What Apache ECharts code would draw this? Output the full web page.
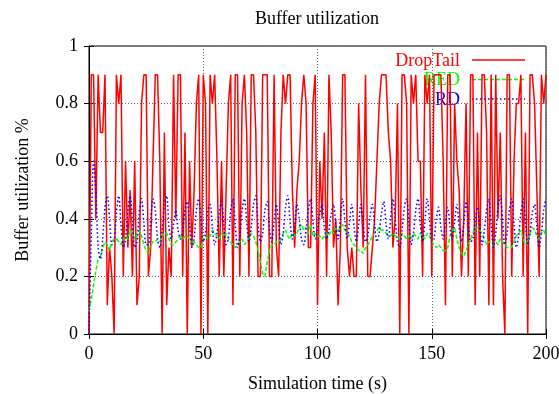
<!DOCTYPE html>
<html>
<head>
<meta charset="utf-8">
<script src="https://cdn.jsdelivr.net/npm/echarts@6/dist/echarts.min.js"></script>
<style>html,body{margin:0;padding:0;background:#fff;}#c{width:559px;height:394px;}</style>
</head>
<body>
<div id="c"></div>
<script>
// Sampling step of all series (seconds)
const step = 1;
const xTicks = [0, 50, 100, 150, 200];
const yTicks = [0, 0.2, 0.4, 0.6, 0.8, 1];
const seriesNames = ['DropTail', 'RED', 'RD'];

const dropTail = [
0,0.9,0.9,0.4,0.9,0.7,0.7,0.9,0.1,0.3,
0.2,0,0.9,0.8,0.9,0.2,0.6,0.3,0.5,0.2,
0.6,0.1,0.2,0.8,0.9,0.9,0.2,0.3,0.6,0.9,
0.9,0.6,0,0.7,0.1,0.3,0.2,0.9,0.4,0.9,
0.9,0.2,0.7,0,0.6,0.3,0.5,0.8,0.9,0,
0.9,0.8,0,0.9,0.8,0.9,0.6,0.2,0.6,0.2,
0.5,0.8,0.9,0.1,0.9,0.9,0.2,0.8,0.9,0.7,
0.2,0.9,0.9,0.7,0.2,0.2,0.9,0.9,0.9,0.2,
0.2,0.9,0.3,0.2,0.7,0.9,0.8,0.9,0.9,0.5,
0.3,0.5,0.6,0.8,0.9,0.8,0.3,0.3,0.8,0.9,
0.1,0.6,0.4,0.7,0.2,0.9,0.7,0.3,0.4,0.1,
0.3,0.9,0.9,0.3,0.2,0.3,0.2,0.2,0.8,0.5,
0.3,0.9,0.2,0.2,0.3,0.4,0.6,0.8,0.9,0.9,
0.9,0.7,0.6,0.3,0.4,0.8,0,0.9,0.9,0.8,
0,0.9,0.8,0.9,0.6,0.6,0.2,0.9,0.8,0.9,
0.2,0.9,0.9,0.9,0.9,0.6,0.1,0.9,0.9,0.2,
0.8,0.6,0.5,0.2,0.4,0.8,0.2,0.9,0.9,0.1,
0.7,0.2,0.9,0.9,0.7,0.1,0.9,0.1,0.9,0.4,
0.7,0.2,0,0.9,0.9,0.2,0.6,0.8,0.8,0.9,
0.2,0.7,0,0.9,0.9,0.8,0.5,0.2,0.9,0.8,0.9
];

const redQ = [
0.08,0.12,0.17,0.22,0.26,0.27,0.3,0.32,0.31,0.29,
0.32,0.33,0.33,0.32,0.31,0.33,0.34,0.33,0.36,0.35,
0.33,0.34,0.36,0.34,0.31,0.29,0.28,0.31,0.32,0.32,
0.33,0.32,0.34,0.35,0.35,0.33,0.31,0.31,0.32,0.33,
0.34,0.33,0.34,0.34,0.33,0.31,0.32,0.31,0.3,0.3,
0.33,0.34,0.33,0.34,0.36,0.35,0.34,0.33,0.35,0.34,
0.35,0.33,0.32,0.31,0.3,0.31,0.32,0.33,0.31,0.32,
0.33,0.35,0.34,0.32,0.29,0.25,0.21,0.2,0.25,0.29,
0.31,0.31,0.32,0.32,0.33,0.35,0.36,0.34,0.33,0.35,
0.34,0.35,0.37,0.38,0.36,0.37,0.35,0.38,0.34,0.35,
0.34,0.34,0.33,0.34,0.35,0.34,0.36,0.35,0.37,0.36,
0.37,0.38,0.36,0.35,0.34,0.32,0.31,0.3,0.29,0.29,
0.28,0.3,0.31,0.32,0.34,0.35,0.36,0.37,0.36,0.36,
0.35,0.34,0.34,0.35,0.34,0.34,0.33,0.35,0.34,0.33,
0.34,0.33,0.35,0.34,0.33,0.35,0.34,0.33,0.35,0.34,
0.32,0.31,0.3,0.31,0.3,0.29,0.29,0.3,0.34,0.36,
0.37,0.33,0.3,0.28,0.27,0.29,0.31,0.33,0.35,0.37,
0.37,0.36,0.35,0.33,0.31,0.32,0.32,0.31,0.32,0.31,
0.33,0.32,0.31,0.3,0.3,0.3,0.32,0.34,0.35,0.36,
0.33,0.31,0.32,0.35,0.37,0.36,0.34,0.33,0.35,0.36,0.34
];

const rdQ = [
0,0.35,0.6,0.5,0.3,0.26,0.33,0.44,0.48,0.4,
0.31,0.32,0.42,0.48,0.38,0.3,0.33,0.43,0.48,0.39,
0.3,0.32,0.42,0.47,0.39,0.31,0.31,0.4,0.47,0.43,
0.33,0.3,0.36,0.45,0.48,0.37,0.33,0.38,0.43,0.36,
0.33,0.36,0.43,0.46,0.38,0.3,0.33,0.43,0.47,0.4,
0.32,0.35,0.43,0.45,0.37,0.31,0.35,0.42,0.46,0.38,
0.31,0.33,0.43,0.47,0.38,0.3,0.34,0.43,0.47,0.39,
0.32,0.37,0.45,0.48,0.38,0.32,0.35,0.43,0.46,0.36,
0.32,0.39,0.45,0.38,0.31,0.35,0.44,0.48,0.39,0.33,
0.38,0.45,0.4,0.33,0.31,0.36,0.43,0.47,0.39,0.33,
0.36,0.42,0.45,0.37,0.33,0.36,0.42,0.45,0.38,0.33,
0.4,0.47,0.39,0.33,0.39,0.45,0.37,0.32,0.38,0.45,
0.38,0.32,0.34,0.41,0.45,0.38,0.32,0.35,0.42,0.46,
0.38,0.33,0.4,0.47,0.4,0.32,0.3,0.36,0.44,0.47,
0.39,0.31,0.35,0.43,0.47,0.38,0.32,0.39,0.47,0.4,
0.32,0.33,0.4,0.44,0.37,0.33,0.39,0.44,0.37,0.33,
0.39,0.45,0.37,0.32,0.38,0.46,0.39,0.32,0.33,0.39,
0.44,0.37,0.31,0.36,0.43,0.47,0.38,0.3,0.35,0.44,
0.48,0.39,0.31,0.35,0.43,0.47,0.38,0.3,0.34,0.42,
0.47,0.39,0.31,0.35,0.42,0.45,0.37,0.3,0.35,0.43,0.47
];

const toPairs = arr => arr.map((v, i) => [i * step, v]);
const FONT = "'Liberation Serif', 'Times New Roman', serif";
const colors = ['#ff0000', '#00ff00', '#0000ff'];
const dashes = [null, [4, 2], [1.5, 2.5]];

const chart = echarts.init(document.getElementById('c'), null, {renderer: 'canvas'});

const gridLine = {show: true, lineStyle: {color: '#666', type: [1, 2], width: 1}};
const tick = {show: true, inside: true, length: 5, lineStyle: {color: '#000'}};

// gnuplot-style key: right-aligned text, sample line to its right
const legendItems = [];
seriesNames.forEach((name, i) => {
  const yc = 61 + i * 19.5;
  legendItems.push({
    type: 'text', x: 460, y: yc, silent: true,
    style: {text: name, fill: colors[i], font: '18px ' + FONT, textAlign: 'right', textVerticalAlign: 'middle'}
  });
  legendItems.push({
    type: 'line', silent: true,
    shape: {x1: 472, y1: yc - 1, x2: 525, y2: yc - 1},
    style: {stroke: colors[i], lineWidth: 1.5, lineDash: dashes[i] || null}
  });
});

chart.setOption({
  animation: false,
  backgroundColor: '#fff',
  title: {
    text: 'Buffer utilization', left: 317, top: 10, textAlign: 'center', padding: 0,
    textStyle: {fontFamily: FONT, fontSize: 18, fontWeight: 'normal', color: '#000'}
  },
  graphic: legendItems,
  grid: {left: 89, right: 13, top: 46, bottom: 60, outerBoundsMode: 'none', containLabel: false,
    show: true, borderColor: '#000', borderWidth: 1, backgroundColor: 'transparent'},
  xAxis: [{
    type: 'value', min: xTicks[0], max: xTicks[xTicks.length - 1], interval: 50,
    name: 'Simulation time (s)', nameLocation: 'middle', nameGap: 41,
    nameTextStyle: {fontFamily: FONT, fontSize: 18, color: '#000'},
    axisLine: {show: true, lineStyle: {color: '#000'}},
    axisTick: tick,
    axisLabel: {fontFamily: FONT, fontSize: 18, color: '#000', margin: 11},
    splitLine: gridLine
  }, {
    type: 'value', position: 'top', min: 0, max: 200, interval: 50,
    axisLine: {show: false}, axisTick: tick, axisLabel: {show: false}, splitLine: {show: false}
  }],
  yAxis: [{
    type: 'value', min: yTicks[0], max: yTicks[yTicks.length - 1], interval: 0.2,
    name: 'Buffer utilization %', nameLocation: 'middle', nameGap: 57,
    nameTextStyle: {fontFamily: FONT, fontSize: 18, color: '#000'},
    axisLine: {show: true, lineStyle: {color: '#000'}},
    axisTick: tick,
    axisLabel: {fontFamily: FONT, fontSize: 18, color: '#000', margin: 11},
    splitLine: gridLine
  }, {
    type: 'value', position: 'right', min: 0, max: 1, interval: 0.2,
    axisLine: {show: false}, axisTick: tick, axisLabel: {show: false}, splitLine: {show: false}
  }],
  series: [{
    name: seriesNames[0], type: 'line', data: toPairs(dropTail),
    showSymbol: false, symbol: 'none',
    lineStyle: {color: colors[0], width: 1.5}, itemStyle: {color: colors[0]}
  }, {
    name: seriesNames[1], type: 'line', data: toPairs(redQ),
    showSymbol: false, symbol: 'none',
    lineStyle: {color: colors[1], width: 1.5, type: dashes[1]}, itemStyle: {color: colors[1]}
  }, {
    name: seriesNames[2], type: 'line', data: toPairs(rdQ),
    showSymbol: false, symbol: 'none', smooth: 0.3,
    lineStyle: {color: colors[2], width: 1.5, type: dashes[2]}, itemStyle: {color: colors[2]}
  }]
});
</script>
</body>
</html>
